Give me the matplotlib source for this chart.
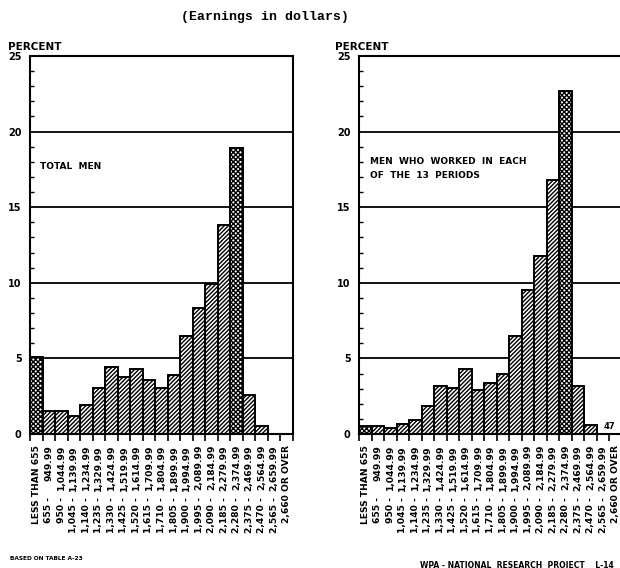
import matplotlib
matplotlib.use("Agg")
import matplotlib.pyplot as plt
import numpy as np

plt.rcParams['hatch.linewidth'] = 1.0

lows = ["LESS THAN 655", "655", "950", "1,045", "1,140", "1,235", "1,330", "1,425",
        "1,520", "1,615", "1,710", "1,805", "1,900", "1,995", "2,090", "2,185",
        "2,280", "2,375", "2,470", "2,565", "2,660 OR OVER"]
highs = ["", "949.99", "1,044.99", "1,139.99", "1,234.99", "1,329.99", "1,424.99",
         "1,519.99", "1,614.99", "1,709.99", "1,804.99", "1,899.99", "1,994.99",
         "2,089.99", "2,184.99", "2,279.99", "2,374.99", "2,469.99", "2,564.99",
         "2,659.99", ""]

total_men = [5.1, 1.5, 1.5, 1.2, 1.9, 3.05, 4.4, 3.75, 4.3, 3.6, 3.05, 3.9,
             6.5, 8.35, 9.9, 13.8, 18.9, 2.6, 0.55, 0.0, 0.0]
men_13 = [0.55, 0.55, 0.4, 0.65, 0.95, 1.85, 3.2, 3.05, 4.3, 2.9, 3.35, 3.95,
          6.5, 9.5, 11.8, 16.8, 22.7, 3.2, 0.6, 0.0, 0.0]
cross_hatched = [0, 16]

W, H = 620, 568
fig = plt.figure(figsize=(W / 100, H / 100), dpi=100)
PT = 72 / 100  # points per pixel

def px_axes(x0, x1, ytop, ybot):
    return fig.add_axes([x0 / W, 1 - ybot / H, (x1 - x0) / W, (ybot - ytop) / H])

def draw_panel(ax, vals, label_text, label_xy):
    n = len(vals)
    x = np.arange(n) + 0.5
    for yv in [5, 10, 15, 20]:
        ax.axhline(yv, color='black', lw=1.3, zorder=1)
    for i, v in enumerate(vals):
        if v <= 0:
            continue
        h = 'xxxxxxx' if i in cross_hatched else '////////'
        ax.bar(x[i], v, width=1.0, facecolor='white', edgecolor='black',
               hatch=h, linewidth=1.4, zorder=2)
    ax.set_xlim(0, n)
    ax.set_ylim(0, 25)
    ax.set_yticks([0, 5, 10, 15, 20, 25])
    ax.set_yticklabels(["0", "5", "10", "15", "20", "25"],
                       fontsize=7, fontweight='bold')
    ax.set_yticks(np.arange(0, 26, 1), minor=True)
    ax.tick_params(axis='y', which='major', direction='in', length=0, pad=6)
    ax.tick_params(axis='y', which='minor', direction='in', length=3, width=1)
    ax.set_xticks(x)
    ax.set_xticklabels([""] * n)
    ax.set_xticks(np.arange(0, n + 1), minor=True)
    ax.tick_params(axis='x', which='major', length=0)
    ax.tick_params(axis='x', which='minor', direction='out', length=5, width=1.2)
    for s in ax.spines.values():
        s.set_linewidth(1.5)
    kw = dict(xycoords=('data', 'axes fraction'), textcoords='offset points',
              rotation=90, ha='center', va='top', fontsize=6.6,
              fontweight='bold', annotation_clip=False)
    for i in range(n):
        if highs[i]:
            ax.annotate(highs[i], (x[i], 0), xytext=(0, -11 * PT), **kw)
            ax.annotate(lows[i] + " -", (x[i], 0), xytext=(0, -63 * PT), **kw)
        else:
            ax.annotate(lows[i], (x[i], 0), xytext=(0, -11 * PT), **kw)
    ax.text(label_xy[0], label_xy[1], label_text, fontsize=6.5, fontweight='bold',
            va='top', ha='left', linespacing=1.6, zorder=3)

ax1 = px_axes(30, 293, 56, 434)
draw_panel(ax1, total_men, "TOTAL  MEN", (0.8, 18.0))
ax2 = px_axes(359, 622, 56, 434)
draw_panel(ax2, men_13, "MEN  WHO  WORKED  IN  EACH\nOF  THE  13  PERIODS", (0.9, 18.3))
ax2.text(19.5, 0.2, "47", fontsize=6, fontweight='bold', va='bottom', ha='left')

fig.text(8 / W, 1 - 47 / H, "PERCENT", fontsize=7.5, fontweight='bold',
         va='center', ha='left')
fig.text(335 / W, 1 - 47 / H, "PERCENT", fontsize=7.5, fontweight='bold',
         va='center', ha='left')
fig.text(265 / W, 1 - 17 / H, "(Earnings in dollars)", fontsize=9.5,
         fontweight='bold', family='Liberation Mono', va='center', ha='center')
fig.text(10 / W, 1 - 558 / H, "BASED ON TABLE A-23", fontsize=4.2,
         fontweight='bold', va='center', ha='left')
fig.text(420 / W, 1 - 565 / H, "WPA - NATIONAL  RESEARCH  PROJECT    L-14",
         fontsize=5.5, fontweight='bold', va='center', ha='left')

fig.savefig("out.png", dpi=100, facecolor='white')
